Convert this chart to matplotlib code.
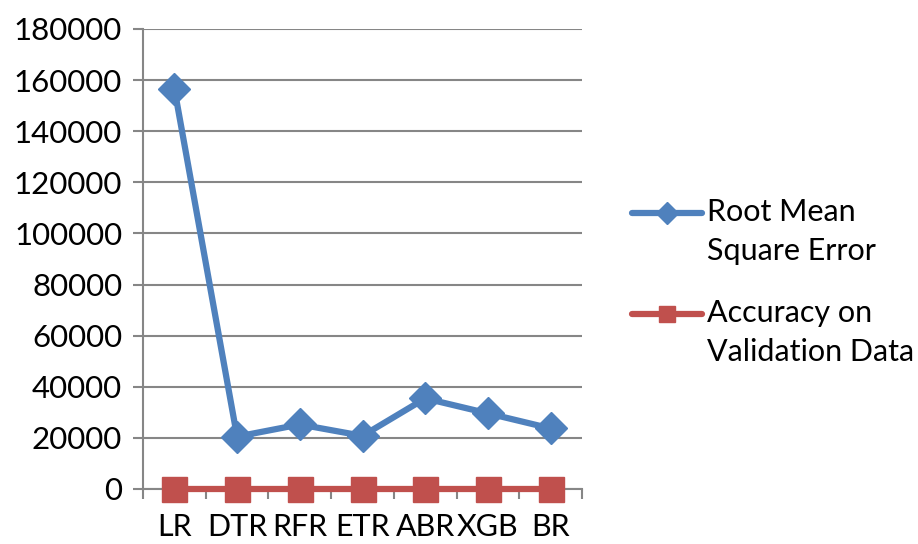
import matplotlib
matplotlib.use("Agg")
import matplotlib.pyplot as plt
from matplotlib.lines import Line2D
import numpy as np

categories = ["LR", "DTR", "RFR", "ETR", "ABR", "XGB", "BR"]
rmse = [156700, 20500, 25250, 20800, 35450, 29600, 23700]
accuracy = [0.85, 0.87, 0.88, 0.86, 0.84, 0.88, 0.87]
yticks = [0, 20000, 40000, 60000, 80000, 100000, 120000, 140000, 160000, 180000]
legend_labels = ["Root Mean\nSquare Error", "Accuracy on\nValidation Data"]

plt.rcParams['font.family'] = ['Lato', 'DejaVu Sans']

W, H = 918, 544
fig = plt.figure(figsize=(W/100, H/100), dpi=100)
ax = fig.add_axes([143/W, 1-489/H, (582-143)/W, (489-29)/H])

x = np.arange(len(categories))
blue = "#4F81BD"
red = "#C0504D"
ax.plot(x, rmse, color=blue, lw=4.5, marker="D", markersize=16, zorder=3, clip_on=False)
ax.plot(x, accuracy, color=red, lw=4.5, marker="s", markersize=18, zorder=3, clip_on=False)

ax.set_xlim(-0.5, len(categories) - 0.5)
ax.set_ylim(0, 180000)
ax.set_yticks(yticks)
ax.set_yticklabels([str(v) for v in yticks], fontsize=22.5)
ax.set_xticks(x)
ax.set_xticklabels(categories, fontsize=22)
ax.set_xticks(np.arange(-0.5, len(categories), 1), minor=True)
ax.tick_params(axis='x', which='major', length=0, pad=17)
ax.tick_params(axis='x', which='minor', length=7, color="#868686", width=1.5, direction='out')
ax.tick_params(axis='y', length=7, color="#868686", width=1.5, direction='out', pad=8)
ax.yaxis.grid(True, color="#868686", lw=1.5)
ax.set_axisbelow(True)
for s in ["top", "right"]:
    ax.spines[s].set_visible(False)
for s in ["left", "bottom"]:
    ax.spines[s].set_color("#868686")
    ax.spines[s].set_linewidth(1.5)

# legend drawn manually (handle aligned with first text line)
leg_specs = [(legend_labels[0], blue, "D", 11, 213), (legend_labels[1], red, "s", 12, 314)]
for label, col, mk, ms, yc in leg_specs:
    fig.add_artist(Line2D([632/W, 702/W], [1-yc/H, 1-yc/H], transform=fig.transFigure,
                          color=col, lw=4.5, solid_capstyle="round"))
    fig.add_artist(Line2D([667/W], [1-yc/H], transform=fig.transFigure, color=col,
                          marker=mk, markersize=ms, lw=0))
    fig.text(707/W, 1-(yc-15)/H, label, fontsize=22, ha="left", va="top",
             linespacing=1.48)

fig.savefig("out.png", dpi=100)
